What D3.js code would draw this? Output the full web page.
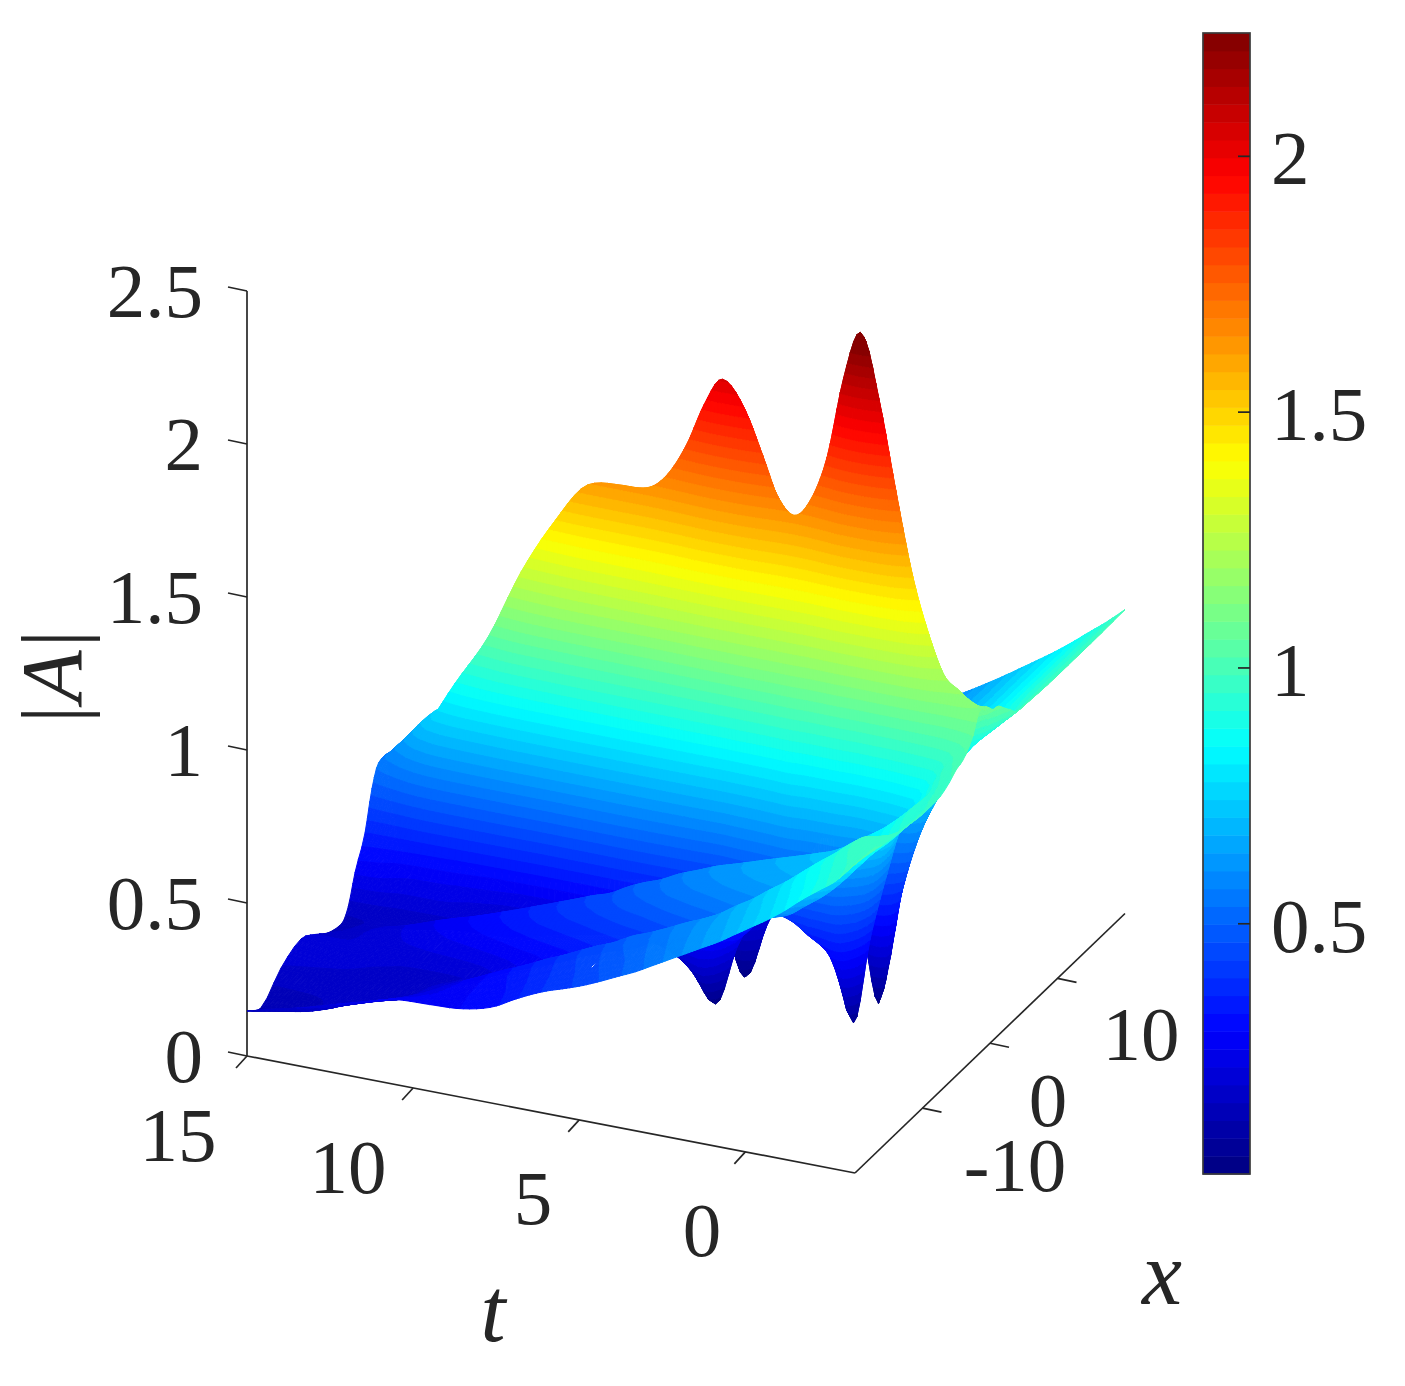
<!DOCTYPE html>
<html><head><meta charset="utf-8">
<style>html,body{margin:0;padding:0;background:#fff}svg{display:block;filter:blur(0.55px)}
text{font-family:"Liberation Serif","Times New Roman",serif;fill:#262626}</style>
<script src="https://cdn.jsdelivr.net/npm/d3@7"></script></head><body><div id="c"></div>
<script>
const tValues=[-3.3,-2.7,-2.2,-1.7,-1.2,-0.7,-0.2,0.3,0.8,1.3,1.8,2.3,2.8,3.3,3.8,4.45,5,5.5,6,6.5,7,7.5,8.5,9.5,10.5,11.5,12.5,13.5,14.3,15];
const xValues=[-20,-18,-15,-12,-10,-8,-6,-5,-4,-2.5,-1.5,-0.5,0.5,1.2,2,3,4,6,10,15,20];
const absA=[
[1.01,1.0,.98,.97,.96,.96,.98,1.0,1.01,1.06,1.12,1.11,1.08,1.076,1.054,1.026,1.0,.995,.99,.99,.993],
[.94,.955,.98,.9,.92,.933,.93,.94,.96,1.0,1.17,1.07,1.03,1.0,.97,.95,.94,.93,.937,.937,.937],
[.90,.92,.95,.85,.87,.883,.86,.86,.88,.93,1.215,1.1,.98,.93,.91,.89,.885,.88,.895,.895,.895],
[.86,.875,.906,.79,.82,.837,.79,.78,.80,.85,1.35,1.2,.95,.84,.80,.81,.83,.85,.852,.852,.852],
[.815,.835,.866,.73,.78,.80,.72,.69,.70,.74,1.53,1.38,.97,.75,.693,.72,.76,.80,.812,.812,.812],
[.775,.795,.823,.68,.74,.763,.65,.58,.55,.55,1.80,1.6,1.0,.62,.565,.62,.68,.75,.775,.775,.775],
[.74,.755,.78,.64,.705,.733,.58,.46,.38,.33,2.09,1.85,1.15,.46,.37,.5,.6,.7,.739,.739,.739],
[.705,.72,.743,.60,.68,.714,.52,.35,.22,.045,2.28,2.0,.9,.03,.1,.3,.5,.65,.703,.703,.703],
[.67,.685,.703,.58,.665,.696,.52,.38,.3,.29,2.12,1.9,1.2,.28,.2,.35,.5,.62,.669,.669,.669],
[.64,.655,.67,.56,.65,.679,.52,.4,.34,.37,1.85,1.7,1.25,.42,.38,.42,.5,.6,.636,.636,.636],
[.61,.625,.634,.54,.635,.662,.52,.42,.38,.43,1.70,1.55,1.25,.6,.55,.5,.52,.58,.605,.605,.605],
[.58,.595,.607,.52,.62,.644,.5,.42,.4,.55,1.64,1.5,1.2,.65,.52,.5,.5,.55,.575,.575,.575],
[.55,.567,.584,.49,.6,.627,.47,.38,.36,.45,1.695,1.52,1.15,.6,.42,.42,.45,.52,.55,.55,.55],
[.52,.54,.558,.47,.58,.61,.44,.33,.3,.33,1.825,1.65,1.1,.5,.3,.36,.42,.5,.525,.525,.525],
[.495,.51,.533,.45,.56,.588,.4,.28,.25,.22,1.96,1.75,1.1,.4,.2,.3,.4,.48,.5,.5,.5],
[.462,.48,.505,.42,.53,.56,.36,.22,.12,.02,2.04,1.8,1.1,.1,.015,.22,.36,.45,.47,.47,.47],
[.437,.455,.473,.39,.5,.53,.36,.26,.17,.115,1.945,1.72,1.05,.3,.16,.25,.34,.42,.445,.445,.445],
[.418,.43,.451,.375,.48,.51,.35,.27,.2,.18,1.81,1.6,1.0,.35,.2,.25,.33,.4,.425,.425,.425],
[.40,.41,.426,.355,.455,.485,.34,.27,.22,.22,1.71,1.5,.95,.38,.25,.27,.32,.38,.405,.405,.405],
[.377,.385,.40,.335,.43,.455,.33,.26,.23,.25,1.65,1.45,.9,.4,.28,.28,.31,.36,.385,.385,.385],
[.35,.36,.377,.31,.41,.437,.31,.25,.23,.25,1.632,1.42,.88,.4,.28,.28,.3,.34,.365,.365,.365],
[.32,.33,.351,.29,.39,.416,.3,.24,.22,.25,1.63,1.4,.85,.4,.27,.27,.29,.32,.345,.345,.345],
[.29,.295,.302,.25,.35,.375,.27,.22,.2,.22,1.61,1.35,.8,.38,.25,.25,.26,.28,.305,.305,.305],
[.283,.27,.254,.205,.305,.335,.24,.19,.19,.22,1.47,1.25,.7,.32,.22,.22,.23,.26,.285,.285,.285],
[.278,.245,.204,.18,.27,.297,.21,.17,.19,.26,1.285,1.1,.6,.3,.2,.2,.22,.25,.27,.27,.27],
[.25,.21,.165,.18,.24,.264,.19,.17,.2,.3,1.05,.95,.55,.3,.2,.2,.2,.23,.25,.25,.25],
[.219,.175,.165,.19,.215,.226,.17,.17,.22,.33,.877,.82,.55,.3,.2,.2,.2,.21,.21,.21,.21],
[.188,.14,.17,.2,.19,.192,.16,.17,.22,.345,.69,.73,.55,.3,.2,.18,.18,.18,.18,.18,.18],
[.167,.125,.175,.205,.185,.166,.15,.17,.25,.35,.55,.63,.6,.4,.25,.18,.16,.16,.16,.16,.16],
[.147,.113,.18,.213,.185,.148,.135,.17,.26,.36,.48,.545,.55,.45,.3,.2,.15,.147,.147,.147,.147]
];
const tTicks=[15,10,5,0];
const xTicks=[-10,0,10];
const zTicks=[0,0.5,1,1.5,2,2.5];
const cTicks=[0.5,1,1.5,2];
const cDomain=[0.01,2.24];

const W=1405,H=1386;
const svg=d3.select("#c").append("svg").attr("width",W).attr("height",H);
const tPX=d3.scaleLinear().domain([15,-3.3]).range([0,608]);
const tPY=d3.scaleLinear().domain([15,-3.3]).range([0,117]);
const xPX=d3.scaleLinear().domain([-20,20]).range([0,270]);
const xPY=d3.scaleLinear().domain([-20,20]).range([0,-259.5]);
const zPY=d3.scaleLinear().domain([0,2.5]).range([0,-765]);
const O=[247,1056];
const proj=(t,x,z)=>[O[0]+tPX(t)+xPX(x),O[1]+tPY(t)+xPY(x)+zPY(z)];

function jet(f){const c=v=>Math.round(255*Math.max(0,Math.min(1,v)));
  return d3.rgb(c(1.5-Math.abs(4*f-3)),c(1.5-Math.abs(4*f-2)),c(1.5-Math.abs(4*f-1))).formatHex();}
const jet64=d3.range(64).map(i=>jet((i+0.5)/64));
const color=d3.scaleQuantize().domain(cDomain).range(jet64);
const bandWidth=(cDomain[1]-cDomain[0])/64;

function shaper(ts,vs){
  const n=ts.length,h=[],d=[],m=new Array(n);
  for(let i=0;i<n-1;i++){h[i]=ts[i+1]-ts[i];d[i]=(vs[i+1]-vs[i])/h[i];}
  m[0]=d[0];m[n-1]=d[n-2];
  for(let i=1;i<n-1;i++){
    if(d[i-1]*d[i]<=0){m[i]=0;continue;}
    const c=(d[i-1]*h[i]+d[i]*h[i-1])/(h[i]+h[i-1]);
    const lim=3*Math.min(Math.abs(d[i-1]),Math.abs(d[i]));
    m[i]=Math.sign(c)*Math.min(Math.abs(c),lim);
  }
  return (i,s)=>{const s2=s*s,s3=s2*s;
    return (2*s3-3*s2+1)*vs[i]+(s3-2*s2+s)*h[i]*m[i]+(-2*s3+3*s2)*vs[i+1]+(s3-s2)*h[i]*m[i+1];};
}
const colFns=xValues.map((_,j)=>shaper(tValues,absA.map(r=>r[j])));
const SUBT=5,SUBX=3;
const fineT=[],fineRows=[];
for(let i=0;i<tValues.length-1;i++){
  for(let k=0;k<SUBT;k++){const s=k/SUBT;
    fineT.push(tValues[i]+s*(tValues[i+1]-tValues[i]));
    fineRows.push(colFns.map(f=>f(i,s)));}
}
fineT.push(tValues[tValues.length-1]);fineRows.push(absA[absA.length-1].slice());
const fineX=[];
for(let j=0;j<xValues.length-1;j++)for(let k=0;k<SUBX;k++)fineX.push(xValues[j]+k/SUBX*(xValues[j+1]-xValues[j]));
fineX.push(xValues[xValues.length-1]);
const fineZ=fineRows.map(r=>{const f=shaper(xValues,r),out=[];
  for(let j=0;j<xValues.length-1;j++)for(let k=0;k<SUBX;k++)out.push(f(j,k/SUBX));
  out.push(r[r.length-1]);return out;});

function clip(poly,level,keepAbove){
  const out=[];
  for(let i=0;i<poly.length;i++){
    const a=poly[i],b=poly[(i+1)%poly.length];
    const ia=keepAbove?a.z>=level:a.z<=level, ib=keepAbove?b.z>=level:b.z<=level;
    if(ia)out.push(a);
    if(ia!==ib){const s=(level-a.z)/(b.z-a.z);
      out.push({x:a.x+s*(b.x-a.x),y:a.y+s*(b.y-a.y),z:level});}
  }
  return out;
}
const facets=[];
function addTri(a,b,c){
  const zmin=Math.min(a.z,b.z,c.z),zmax=Math.max(a.z,b.z,c.z);
  const k0=Math.floor((zmin-cDomain[0])/bandWidth),k1=Math.floor((zmax-cDomain[0])/bandWidth);
  if(k0===k1){facets.push({p:[a,b,c],z:(a.z+b.z+c.z)/3});return;}
  for(let k=k1;k>=k0;k--){
    const lo=cDomain[0]+k*bandWidth,hi=lo+bandWidth;
    let poly=clip([a,b,c],lo,true);
    if(poly.length)poly=clip(poly,hi,false);
    if(poly.length>=3)facets.push({p:poly,z:(lo+hi)/2});
  }
}
const vtx=(i,j)=>{const q=proj(fineT[i],fineX[j],fineZ[i][j]);return {x:q[0],y:q[1],z:fineZ[i][j]};};
for(let i=fineT.length-2;i>=0;i--){
  for(let j=fineX.length-2;j>=0;j--){
    const a=vtx(i+1,j+1),b=vtx(i+1,j),c=vtx(i,j+1),d=vtx(i,j);
    addTri(a,b,c);addTri(b,c,d);
  }
}
const line3=(a,b)=>`M${a[0]},${a[1]}L${b[0]},${b[1]}`;
const axes=svg.append("g").attr("fill","none").attr("stroke","#262626").attr("stroke-width",1.7);
axes.append("path").attr("d",line3(proj(15,-20,0),proj(15,-20,2.5)));
axes.append("path").attr("d",line3(proj(15,-20,0),proj(-3.3,-20,0)));
axes.append("path").attr("d",line3(proj(-3.3,-20,0),proj(-3.3,20,0)));
zTicks.forEach(z=>{const a=proj(15,-20,z);axes.append("path").attr("d",line3(a,[a[0]-19,a[1]-4]));});
tTicks.forEach(t=>{const a=proj(t,-20,0);axes.append("path").attr("d",line3(a,[a[0]-11,a[1]+12]));});
xTicks.forEach(x=>{const a=proj(-3.3,x,0);axes.append("path").attr("d",line3(a,[a[0]+19,a[1]+4]));});

svg.append("g").attr("class","surface").selectAll("path").data(facets).join("path")
  .attr("d",d=>"M"+d.p.map(q=>q.x.toFixed(2)+","+q.y.toFixed(2)).join("L")+"Z")
  .attr("fill",d=>color(d.z)).attr("stroke",d=>color(d.z)).attr("stroke-width",1).attr("stroke-linejoin","round");

const FS=77;
const label=(x,y,s,anchor="middle")=>svg.append("text").attr("x",x).attr("y",y).attr("text-anchor",anchor)
  .attr("font-size",FS).text(s);
zTicks.forEach(z=>{const a=proj(15,-20,z);label(203,a[1]+26,String(z),"end");});
const tLabelPos={15:[178,1161],10:[348,1193],5:[533,1224],0:[702,1256]};
tTicks.forEach(t=>label(tLabelPos[t][0],tLabelPos[t][1],String(t)));
const xLabelPos={"-10":[1015,1191],"0":[1048,1126],"10":[1141,1060]};
xTicks.forEach(x=>label(xLabelPos[x][0],xLabelPos[x][1],String(x)));
svg.append("text").attr("x",493).attr("y",1341).attr("text-anchor","middle").attr("font-size",90).attr("font-style","italic").text("t");
svg.append("text").attr("x",1162).attr("y",1304).attr("text-anchor","middle").attr("font-size",90).attr("font-style","italic").text("x");
const yl=svg.append("text").attr("transform","translate(81,675) rotate(-90)").attr("text-anchor","middle").attr("font-size",86).attr("letter-spacing",3);
yl.append("tspan").text("|");yl.append("tspan").attr("font-style","italic").text("A");yl.append("tspan").text("|");

const cb={x:1203,y:33,w:47,h:1141};
const cScale=d3.scaleLinear().domain(cDomain).range([cb.y+cb.h,cb.y]);
const cbG=svg.append("g");
cbG.selectAll("rect").data(jet64).join("rect")
  .attr("x",cb.x).attr("width",cb.w)
  .attr("y",(d,i)=>cb.y+cb.h-(i+1)*cb.h/64).attr("height",cb.h/64+0.5).attr("fill",d=>d);
cbG.append("rect").attr("x",cb.x).attr("y",cb.y).attr("width",cb.w).attr("height",cb.h)
  .attr("fill","none").attr("stroke","#3a3a3a").attr("stroke-width",1.7);
const cAxis=d3.axisRight(cScale).tickValues(cTicks).tickSizeInner(-12).tickSizeOuter(0).tickPadding(21).tickFormat(d=>String(d));
const cg=svg.append("g").attr("transform",`translate(${cb.x+cb.w},0)`).call(cAxis);
cg.select(".domain").remove();
cg.selectAll("line").attr("stroke","#262626").attr("stroke-width",1.7);
cg.selectAll("text").attr("font-size",FS).attr("font-family",null).attr("fill","#262626").attr("dy","0.36em");
</script></body></html>
